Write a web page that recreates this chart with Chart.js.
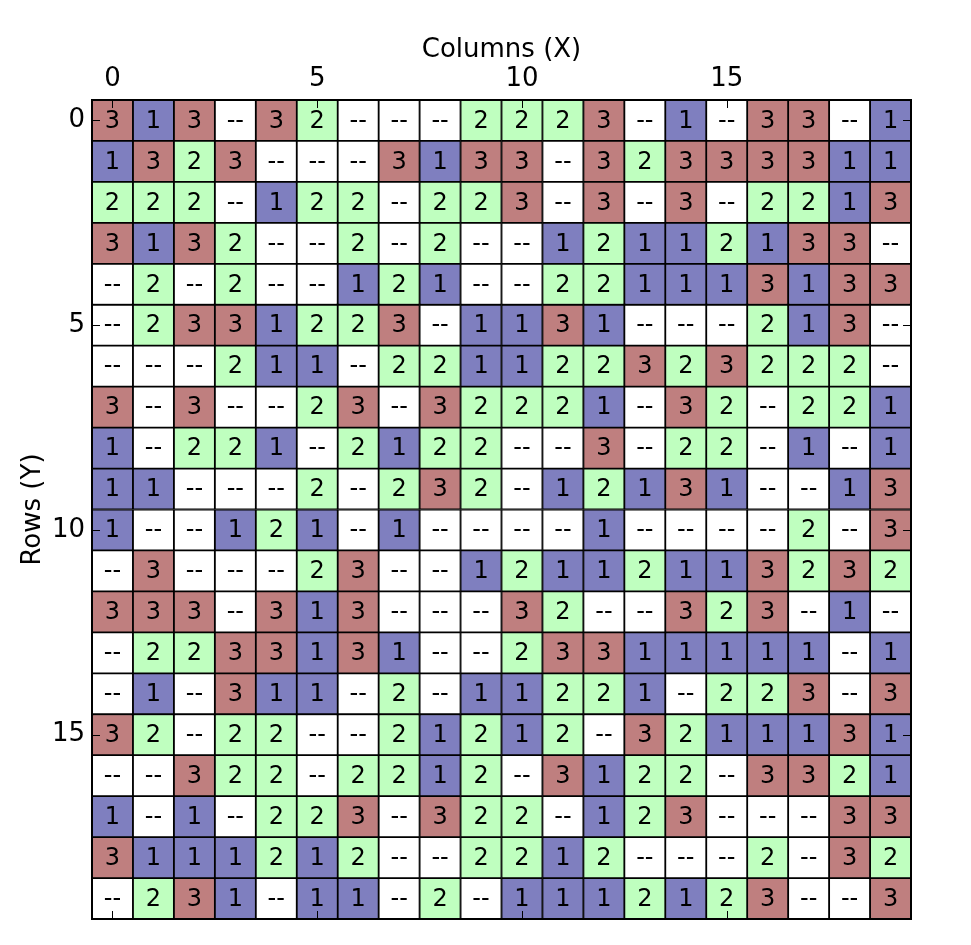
<!DOCTYPE html>
<html>
<head>
<meta charset="utf-8">
<script src="https://cdn.jsdelivr.net/npm/chart.js@4"></script>
<style>
  html, body { margin: 0; padding: 0; background: #fff; }
  #wrap { width: 971px; height: 945px; }
</style>
</head>
<body>
<div id="wrap"><canvas id="grid"></canvas></div>
<script>
// 0 means "--" (empty cell)
const rowLabels = ["0","1","2","3","4","5","6","7","8","9","10","11","12","13","14","15","16","17","18","19"];
const colTicks = [0, 5, 10, 15];
const rowTicks = [0, 5, 10, 15];

const row0  = [3,1,3,0,3,2,0,0,0,2, 2,2,3,0,1,0,3,3,0,1];
const row1  = [1,3,2,3,0,0,0,3,1,3, 3,0,3,2,3,3,3,3,1,1];
const row2  = [2,2,2,0,1,2,2,0,2,2, 3,0,3,0,3,0,2,2,1,3];
const row3  = [3,1,3,2,0,0,2,0,2,0, 0,1,2,1,1,2,1,3,3,0];
const row4  = [0,2,0,2,0,0,1,2,1,0, 0,2,2,1,1,1,3,1,3,3];
const row5  = [0,2,3,3,1,2,2,3,0,1, 1,3,1,0,0,0,2,1,3,0];
const row6  = [0,0,0,2,1,1,0,2,2,1, 1,2,2,3,2,3,2,2,2,0];
const row7  = [3,0,3,0,0,2,3,0,3,2, 2,2,1,0,3,2,0,2,2,1];
const row8  = [1,0,2,2,1,0,2,1,2,2, 0,0,3,0,2,2,0,1,0,1];
const row9  = [1,1,0,0,0,2,0,2,3,2, 0,1,2,1,3,1,0,0,1,3];
const row10 = [1,0,0,1,2,1,0,1,0,0, 0,0,1,0,0,0,0,2,0,3];
const row11 = [0,3,0,0,0,2,3,0,0,1, 2,1,1,2,1,1,3,2,3,2];
const row12 = [3,3,3,0,3,1,3,0,0,0, 3,2,0,0,3,2,3,0,1,0];
const row13 = [0,2,2,3,3,1,3,1,0,0, 2,3,3,1,1,1,1,1,0,1];
const row14 = [0,1,0,3,1,1,0,2,0,1, 1,2,2,1,0,2,2,3,0,3];
const row15 = [3,2,0,2,2,0,0,2,1,2, 1,2,0,3,2,1,1,1,3,1];
const row16 = [0,0,3,2,2,0,2,2,1,2, 0,3,1,2,2,0,3,3,2,1];
const row17 = [1,0,1,0,2,2,3,0,3,2, 2,0,1,2,3,0,0,0,3,3];
const row18 = [3,1,1,1,2,1,2,0,0,2, 2,1,2,0,0,0,2,0,3,2];
const row19 = [0,2,3,1,0,1,1,0,2,0, 1,1,1,2,1,2,3,0,0,3];

const grid = [row0,row1,row2,row3,row4,row5,row6,row7,row8,row9,
  row10,row11,row12,row13,row14,row15,row16,row17,row18,row19];

const cellColors = { 0: "#ffffff", 1: "#7f7fbf", 2: "#bfffbf", 3: "#bf7f7f" };
const cellText = v => v === 0 ? "--" : String(v);

// one dataset per column; each bar spans [c-0.5, c+0.5]
const datasets = [];
for (let c = 0; c < 20; c++) {
  datasets.push({
    data: grid.map(() => [c - 0.5, c + 0.5]),
    cells: grid.map(r => r[c]),
    backgroundColor: grid.map(r => cellColors[r[c]]),
    borderColor: "#000",
    borderWidth: 1.25,
    borderSkipped: false,
    grouped: false,
    categoryPercentage: 1,
    barPercentage: 1,
  });
}

const cellLabels = {
  id: "cellLabels",
  afterDatasetsDraw(chart) {
    const ctx = chart.ctx;
    ctx.save();
    ctx.fillStyle = "#000";
    ctx.textAlign = "center";
    ctx.textBaseline = "middle";
    ctx.font = "24px 'DejaVu Sans'";
    chart.data.datasets.forEach((ds, i) => {
      chart.getDatasetMeta(i).data.forEach((bar, j) => {
        ctx.fillText(cellText(ds.cells[j]), (bar.x + bar.base) / 2, bar.y + 1);
      });
    });
    // frame and small inward ticks
    const a = chart.chartArea;
    ctx.strokeStyle = "#000";
    ctx.lineWidth = 2;
    ctx.strokeRect(a.left, a.top, a.right - a.left, a.bottom - a.top);
    ctx.lineWidth = 1;
    const xs = chart.scales.x, ys = chart.scales.y;
    colTicks.forEach(t => {
      const px = Math.round(xs.getPixelForValue(t)) + 0.5;
      ctx.beginPath();
      ctx.moveTo(px, a.top); ctx.lineTo(px, a.top + 8);
      ctx.moveTo(px, a.bottom); ctx.lineTo(px, a.bottom - 8);
      ctx.stroke();
    });
    rowTicks.forEach(t => {
      const py = Math.round(ys.getPixelForValue(t)) + 0.5;
      ctx.beginPath();
      ctx.moveTo(a.left, py); ctx.lineTo(a.left + 8, py);
      ctx.moveTo(a.right, py); ctx.lineTo(a.right - 8, py);
      ctx.stroke();
    });
    ctx.restore();
  }
};

new Chart(document.getElementById("grid"), {
  type: "bar",
  data: { labels: rowLabels, datasets: datasets },
  plugins: [cellLabels],
  options: {
    indexAxis: "y",
    responsive: true,
    maintainAspectRatio: false,
    animation: false,
    layout: { padding: { left: 0, top: 0, right: 60, bottom: 26 } },
    plugins: {
      legend: { display: false },
      tooltip: { enabled: false },
    },
    scales: {
      x: {
        type: "linear",
        position: "top",
        min: -0.5,
        max: 19.5,
        afterBuildTicks: axis => { axis.ticks = colTicks.map(v => ({ value: v })); },
        afterFit: axis => { axis.height = 100; },
        grid: { display: false, drawTicks: false },
        border: { display: false },
        ticks: { color: "#000", padding: 5, font: { family: "DejaVu Sans", size: 26 } },
        title: {
          display: true,
          text: "Columns (X)",
          color: "#000",
          padding: { top: 35, bottom: 0 },
          font: { family: "DejaVu Sans", size: 26 },
        },
      },
      y: {
        type: "category",
        position: "left",
        afterFit: axis => { axis.width = 92; },
        grid: { display: false, drawTicks: false },
        border: { display: false },
        ticks: {
          color: "#000",
          padding: 7,
          autoSkip: false,
          font: { family: "DejaVu Sans", size: 26 },
          callback: function (v, i) { return rowTicks.includes(i) ? rowLabels[i] : ""; },
        },
        title: {
          display: true,
          text: "Rows (Y)",
          color: "#000",
          padding: { top: 18, bottom: 0 },
          font: { family: "DejaVu Sans", size: 26 },
        },
      },
    },
  },
});
</script>
</body>
</html>
